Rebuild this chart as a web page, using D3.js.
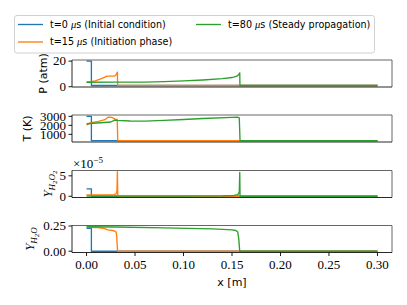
<!DOCTYPE html>
<html>
<head>
<meta charset="utf-8">
<script src="https://cdn.jsdelivr.net/npm/d3@7"></script>
<style>
  body { margin: 0; background: #fff; }
  svg { display: block; }
  .tick-label { font-family: "Liberation Serif", "DejaVu Serif", serif; font-size: 13px; fill: #000; }
  .ax-label { font-family: "DejaVu Sans", sans-serif; font-size: 11px; fill: #000; }
  .legend-text { font-family: "DejaVu Sans", sans-serif; font-size: 9.6px; fill: #000; }
</style>
</head>
<body>
<div class="container"></div>
<script>
var SVG_WIDTH = 407, SVG_HEIGHT = 305;
var LEFT = 72, RIGHT = 392, PANEL_H = 27;
var PANEL_TOPS = [60, 115, 170.5, 225.5];

var seriesNames = ['t=0', 't=15', 't=80'];
var seriesPhases = ['(Initial condition)', '(Initiation phase)', '(Steady propagation)'];
var seriesColors = ['#1f77b4', '#ff7f0e', '#2ca02c'];
var xTicks = [0, 0.05, 0.10, 0.15, 0.20, 0.25, 0.30];

// t = 0 us : step initial condition
var x0 = [0, 0.005, 0.005, 0.3];
var p0 = [20, 20, 1, 1];
var T0 = [3000, 3000, 300, 300];
var h2o2_0 = [1.8, 1.8, 0, 0];
var h2o_0 = [0.226, 0.226, 0, 0];

// t = 15 us
var x15P = [0, 0.009, 0.014, 0.019, 0.021, 0.029, 0.0305, 0.0318, 0.0321, 0.3];
var p15 = [3.6, 4.6, 5.9, 7.5, 8.3, 8.4, 9.3, 11.4, 1, 1];
var x15T = [0, 0.0036, 0.0122, 0.019, 0.0225, 0.026, 0.0294, 0.0316, 0.0322, 0.3];
var T15 = [2005, 2260, 2450, 2630, 2920, 2880, 2700, 2650, 300, 300];
var x15Y = [0, 0.02, 0.028, 0.0305, 0.0314, 0.0318, 0.0322, 0.3];
var h2o2_15 = [0.3, 0.3, 0.4, 0.6, 1.5, 6.0, 0, 0];
var x15W = [0, 0.012, 0.017, 0.02, 0.022, 0.028, 0.03, 0.031, 0.0315, 0.032, 0.3];
var h2o_15 = [0.237, 0.234, 0.228, 0.218, 0.211, 0.203, 0.195, 0.17, 0.08, 0, 0];

// t = 80 us
var x80P = [0, 0.03, 0.06, 0.08, 0.1, 0.12, 0.14, 0.15, 0.155, 0.157, 0.158, 0.1582, 0.3];
var p80 = [3.5, 3.6, 3.6, 4.0, 4.6, 5.3, 6.3, 7.2, 8.3, 9.6, 10.8, 1, 1];
var x80T = [0, 0.025, 0.029, 0.031, 0.045, 0.06, 0.08, 0.1, 0.12, 0.15, 0.156, 0.1575, 0.1583, 0.3];
var T80 = [2180, 2370, 2590, 2560, 2480, 2470, 2560, 2650, 2760, 2880, 2900, 2820, 300, 300];
var x80Y = [0, 0.1, 0.14, 0.152, 0.156, 0.1575, 0.158, 0.1583, 0.3];
var h2o2_80 = [0.05, 0.05, 0.1, 0.2, 0.4, 1.0, 5.8, 0, 0];
var x80W = [0, 0.03, 0.08, 0.13, 0.15, 0.154, 0.156, 0.157, 0.1578, 0.158, 0.3];
var h2o_80 = [0.243, 0.240, 0.232, 0.222, 0.212, 0.205, 0.19, 0.12, 0.02, 0, 0];

function pairs(xs, ys) {
    return xs.map(function (x, i) { return [x, ys[i]]; });
}

var panels = [
    { domain: [-0.2, 20.9], ticks: [0, 20], fmt: d3.format('d'), labelX: 47, label: 'P (atm)',
      series: [pairs(x0, p0), pairs(x15P, p15), pairs(x80P, p80)] },
    { domain: [150, 3150], ticks: [1000, 2000, 3000], fmt: d3.format('d'), labelX: 31, label: 'T (K)',
      series: [pairs(x0, T0), pairs(x15T, T15), pairs(x80T, T80)] },
    { domain: [-0.3, 6.3], ticks: [0, 5], fmt: d3.format('d'), labelX: 52, label: 'H2O2',
      series: [pairs(x0, h2o2_0), pairs(x15Y, h2o2_15), pairs(x80Y, h2o2_80)] },
    { domain: [-0.0126, 0.2549], ticks: [0, 0.25], fmt: d3.format('.2f'), labelX: 34, label: 'H2O',
      series: [pairs(x0, h2o_0), pairs(x15W, h2o_15), pairs(x80W, h2o_80)] }
];

var svg = d3.select('.container').append('svg')
    .attr('width', SVG_WIDTH)
    .attr('height', SVG_HEIGHT);

var x = d3.scaleLinear().domain([-0.015, 0.315]).range([LEFT, RIGHT]);

panels.forEach(function (p, pi) {
    var top = PANEL_TOPS[pi];
    var y = d3.scaleLinear().domain(p.domain).range([top + PANEL_H, top]);
    var g = svg.append('g');

    var line = d3.line()
        .x(function (d) { return x(d[0]); })
        .y(function (d) { return y(d[1]); });

    p.series.forEach(function (s, si) {
        g.append('path')
            .attr('d', line(s))
            .attr('fill', 'none')
            .attr('stroke', seriesColors[si])
            .attr('stroke-width', 1.35)
            .attr('stroke-linejoin', 'round');
    });

    // spines
    g.append('line').attr('x1', LEFT).attr('x2', RIGHT).attr('y1', top).attr('y2', top)
        .attr('stroke', '#555').attr('stroke-width', 0.9);
    g.append('line').attr('x1', RIGHT).attr('x2', RIGHT).attr('y1', top).attr('y2', top + PANEL_H)
        .attr('stroke', '#555').attr('stroke-width', 0.9);
    g.append('line').attr('x1', LEFT).attr('x2', RIGHT).attr('y1', top + PANEL_H).attr('y2', top + PANEL_H)
        .attr('stroke', '#111').attr('stroke-width', 0.9);
    g.append('line').attr('x1', LEFT).attr('x2', LEFT).attr('y1', top).attr('y2', top + PANEL_H)
        .attr('stroke', '#111').attr('stroke-width', 0.9);

    // y ticks
    var yt = g.selectAll('.ytick').data(p.ticks).enter().append('g')
        .attr('transform', function (d) { return 'translate(0,' + y(d) + ')'; });
    yt.append('line').attr('x1', LEFT - 3.5).attr('x2', LEFT).attr('stroke', '#000').attr('stroke-width', 0.9);
    yt.append('text').attr('class', 'tick-label')
        .attr('x', LEFT - 6).attr('dy', '0.33em')
        .attr('text-anchor', 'end')
        .text(function (d) { return p.fmt(d); });

    // y label
    var lab = g.append('text')
        .attr('transform', 'translate(' + p.labelX + ',' + (top + PANEL_H / 2) + ') rotate(-90)')
        .attr('text-anchor', 'middle');
    if (p.label === 'H2O2' || p.label === 'H2O') {
        lab.attr('class', 'tick-label');
        lab.append('tspan').attr('font-style', 'italic').text('Y');
        lab.append('tspan').attr('font-style', 'italic').attr('font-size', 9).attr('dy', 3).text('H');
        lab.append('tspan').attr('font-size', 7).attr('dy', 1.5).text('2');
        lab.append('tspan').attr('font-style', 'italic').attr('font-size', 9).attr('dy', -1.5).text('O');
        if (p.label === 'H2O2') {
            lab.append('tspan').attr('font-size', 7).attr('dy', 1.5).text('2');
        }
    } else {
        lab.attr('class', 'ax-label').text(p.label);
    }

    if (p.label === 'H2O2') {
        var off = g.append('text').attr('class', 'tick-label').attr('x', LEFT + 1).attr('y', top - 3);
        off.append('tspan').text('\u00d710');
        off.append('tspan').attr('font-size', 9).attr('dy', -5).text('\u22125');
    }

    if (pi === panels.length - 1) {
        var xt = g.selectAll('.xtick').data(xTicks).enter().append('g')
            .attr('transform', function (d) { return 'translate(' + x(d) + ',' + (top + PANEL_H) + ')'; });
        xt.append('line').attr('y2', 3.5).attr('stroke', '#000').attr('stroke-width', 0.9);
        xt.append('text').attr('class', 'tick-label')
            .attr('y', 16.5).attr('text-anchor', 'middle')
            .text(function (d) { return d3.format('.2f')(d); });
        g.append('text').attr('class', 'ax-label')
            .attr('x', (LEFT + RIGHT) / 2).attr('y', top + PANEL_H + 33)
            .attr('text-anchor', 'middle')
            .text('x [m]');
    }
});

// legend
var legend = svg.append('g');
legend.append('rect')
    .attr('x', 14.5).attr('y', 15.5).attr('width', 360).attr('height', 37.5)
    .attr('rx', 2.5)
    .attr('fill', '#fff').attr('fill-opacity', 0.8)
    .attr('stroke', '#ccc').attr('stroke-width', 0.9);

var legendPos = [[18, 24.5], [18, 42], [196, 24.5]];
var legendItem = legend.selectAll('.item').data(seriesNames).enter().append('g')
    .attr('transform', function (d, i) { return 'translate(' + legendPos[i][0] + ',' + legendPos[i][1] + ')'; });
legendItem.append('line').attr('x1', 0).attr('x2', 25)
    .attr('stroke', function (d, i) { return seriesColors[i]; })
    .attr('stroke-width', 1.35);
var lt = legendItem.append('text').attr('class', 'legend-text').attr('x', 32).attr('dy', '0.35em');
lt.append('tspan').text(function (d) { return d + ' '; });
lt.append('tspan').attr('font-family', 'Liberation Serif, serif').attr('font-style', 'italic').attr('font-size', 10.5).text('\u03bc');
lt.append('tspan').text(function (d, i) { return 's ' + seriesPhases[i]; });
</script>
</body>
</html>
